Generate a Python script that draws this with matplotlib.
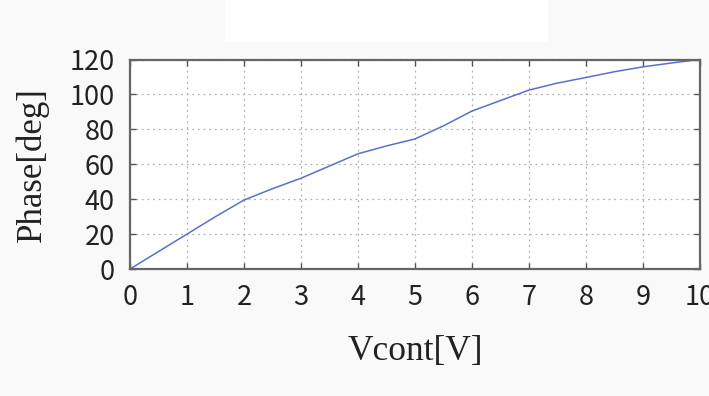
import matplotlib
matplotlib.use('Agg')
from matplotlib import pyplot as plt
from matplotlib.patches import Rectangle

# control voltage [V] and measured phase [deg]
vcont = [0, 0.5, 1, 1.5, 2, 2.5, 3, 3.5, 4, 4.5, 5, 5.5, 6, 6.5, 7, 7.5, 8, 8.5, 9, 9.5, 10]
phase = [0, 10, 20, 30, 39.5, 46, 52, 59, 66, 70.5, 74.5, 82, 90.5, 96.5, 102.5, 106.5, 109.7, 113, 115.8, 118, 120]

xticks = list(range(0, 11))
yticks = [0, 20, 40, 60, 80, 100, 120]

tick_font = ['Noto Sans CJK JP', 'DejaVu Sans']
label_font = 'Liberation Serif'

fig = plt.figure(figsize=(7.09, 3.96), dpi=100, facecolor='#f9f9f9')
fig.patches.append(Rectangle((225 / 709, 1 - 42 / 396), 323 / 709, 42 / 396,
                             transform=fig.transFigure, facecolor='white',
                             edgecolor='none', zorder=0))

ax = fig.add_axes([130 / 709, 1 - 269 / 396, 570 / 709, 209.5 / 396])
ax.set_facecolor('white')
ax.plot(vcont, phase, color='#5b6fcb', lw=1.1)

ax.set_xlim(0, 10)
ax.set_ylim(0, 120)
ax.set_xticks(xticks)
ax.set_yticks(yticks)
ax.grid(True, linestyle=(0, (1.5, 3)), color='#b0b0b0', lw=0.9)
ax.tick_params(direction='in', top=True, right=True, length=4, width=1,
               color='#555555', labelsize=19.5)
ax.tick_params(axis='y', pad=11)
ax.tick_params(axis='x', pad=11)
for lab in ax.get_xticklabels() + ax.get_yticklabels():
    lab.set_family(tick_font)
    lab.set_color('#222222')
for s in ax.spines.values():
    s.set_color('#666666')
    s.set_linewidth(1.6)

ax.set_xlabel('Vcont[V]', fontfamily=label_font, fontsize=25.5, color='#222222', labelpad=17)
ax.set_ylabel('Phase[deg]', fontfamily=label_font, fontsize=25, color='#222222', labelpad=15)

plt.savefig('out.png', dpi=100, facecolor=fig.get_facecolor())
